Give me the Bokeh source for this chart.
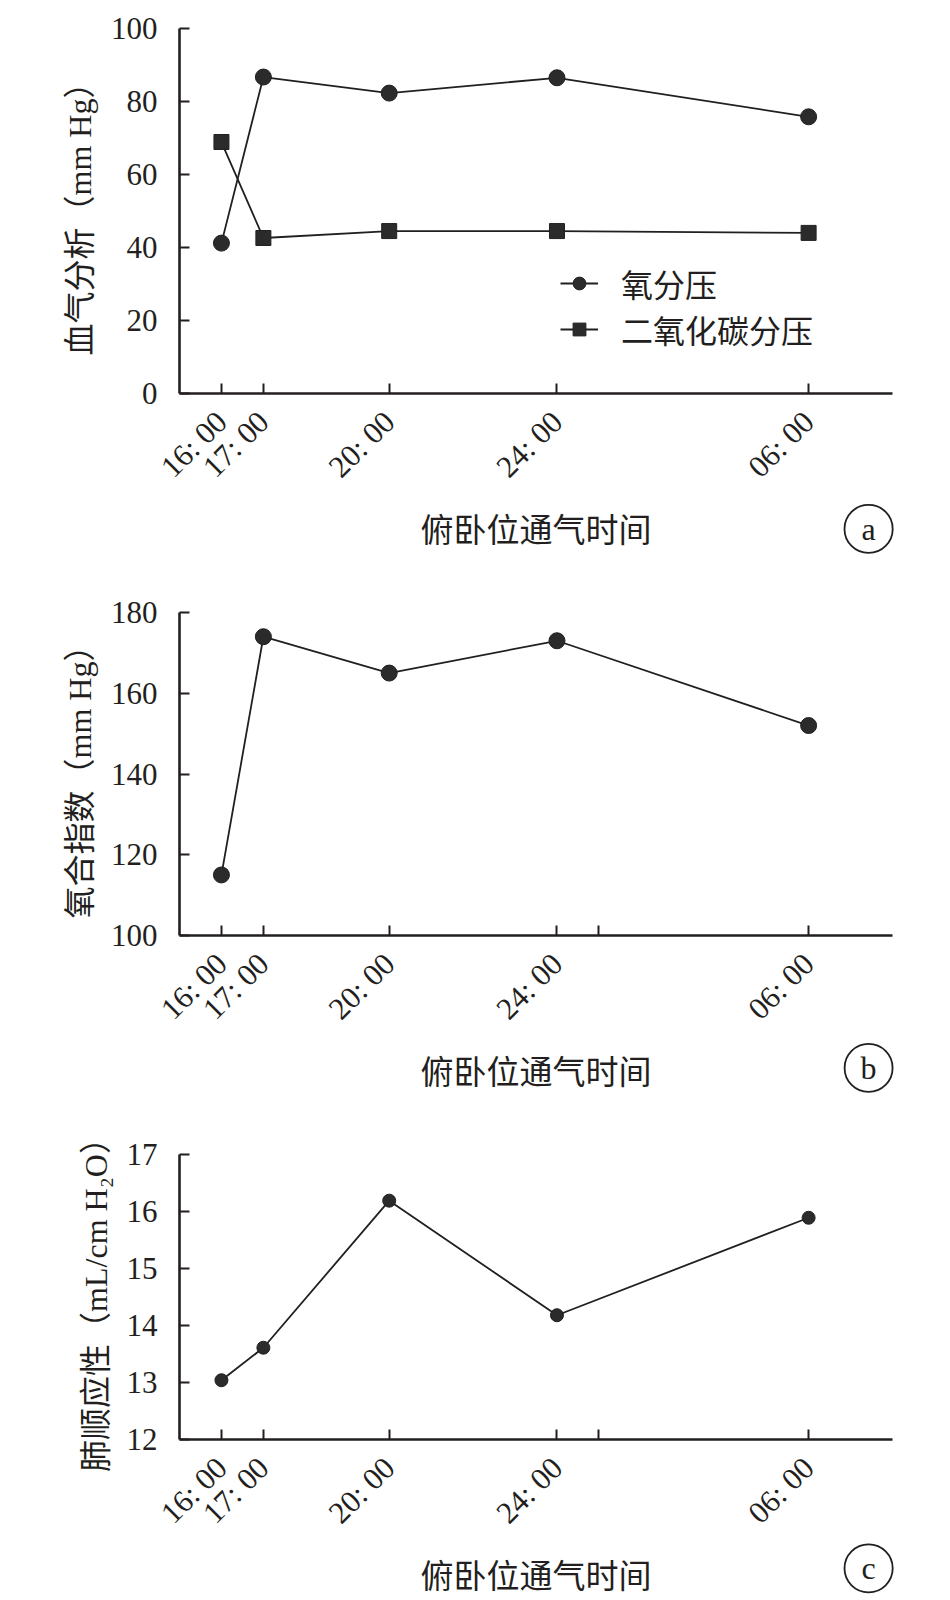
import math
from bokeh.plotting import figure
from bokeh.models import (Range1d, FixedTicker, Legend, LegendItem, Label, ColumnDataSource)
from bokeh.layouts import column
from bokeh.embed import file_html
from bokeh.resources import INLINE

# ---------------- data ----------------
hours = [16, 17, 20, 24, 30]           # 30 = 06:00 next day
tick_labels = ["16: 00", "17: 00", "20: 00", "24: 00", "06: 00"]
po2 = [41.2, 86.7, 82.3, 86.5, 75.8]     # 氧分压
pco2 = [68.9, 42.6, 44.5, 44.5, 44.0]    # 二氧化碳分压
oxy_index = [115, 174, 165, 173, 152]    # 氧合指数
compliance = [13.04, 13.61, 16.19, 14.18, 15.89]  # 肺顺应性

INK = "#231f20"
NUM_FONT = "Liberation Serif"
CJK_FONT = "'Liberation Serif', 'Noto Sans CJK SC'"


def make_panel(frame_h, y0, y1, yticks, ylabel, border_top, border_bottom, extra_tick):
    p = figure(frame_width=713, frame_height=frame_h,
               x_range=Range1d(15, 32), y_range=Range1d(y0, y1),
               output_backend="svg", toolbar_location=None,
               min_border_left=179, min_border_right=50,
               min_border_top=border_top, min_border_bottom=border_bottom)
    p.outline_line_color = None
    p.xgrid.visible = False
    p.ygrid.visible = False
    ticks = list(hours) + ([25] if extra_tick else [])
    p.xaxis.ticker = FixedTicker(ticks=ticks)
    ov = {h: t for h, t in zip(hours, tick_labels)}
    if extra_tick:
        ov[25] = ""
    p.xaxis.major_label_overrides = ov
    p.xaxis.major_label_orientation = math.pi / 4
    p.yaxis.ticker = FixedTicker(ticks=yticks)
    for ax in (p.xaxis, p.yaxis):
        ax.axis_line_width = 2.6
        ax.axis_line_color = INK
        ax.major_tick_line_width = 2
        ax.major_tick_line_color = INK
        ax.major_tick_in = 10
        ax.major_tick_out = 0
        ax.minor_tick_line_color = None
        ax.major_label_text_font = NUM_FONT
        ax.major_label_text_color = INK
        ax.axis_label_text_font = CJK_FONT
        ax.axis_label_text_font_style = "normal"
        ax.axis_label_text_color = INK
    p.xaxis.major_label_text_font_size = "31px"
    p.yaxis.major_label_text_font_size = "31px"
    p.xaxis.major_label_standoff = 23
    p.yaxis.major_label_standoff = 22
    p.xaxis.axis_label = "俯卧位通气时间"
    p.xaxis.axis_label_text_font_size = "33px"
    p.xaxis.axis_label_standoff = 13
    p.yaxis.axis_label = ylabel
    p.yaxis.axis_label_text_font_size = "32px"
    p.yaxis.axis_label_standoff = 10
    return p


def add_letter(p, letter, x, y, pad_x):
    p.add_layout(Label(x=x, y=y, text=letter, text_align="center", text_baseline="middle",
                       text_font=NUM_FONT, text_font_size="32px", text_color=INK,
                       border_line_color=INK, border_line_width=1.8, border_radius=24,
                       padding=dict(left=pad_x, right=pad_x, top=6, bottom=6)), "right")


# ---------------- panel a ----------------
pa = make_panel(365, 0, 100, [0, 20, 40, 60, 80, 100], "血气分析（mm Hg）", 28, 177, False)
src = ColumnDataSource(dict(x=hours, o2=po2, co2=pco2))
l1 = pa.line("x", "o2", source=src, line_color=INK, line_width=1.8)
s1 = pa.scatter("x", "o2", source=src, marker="circle", size=16, fill_color="#2b2b2b", line_color=INK)
l2 = pa.line("x", "co2", source=src, line_color=INK, line_width=1.8)
s2 = pa.scatter("x", "co2", source=src, marker="square", size=15, fill_color="#2b2b2b", line_color=INK)
legend = Legend(items=[LegendItem(label="氧分压", renderers=[l1, s1]),
                       LegendItem(label="二氧化碳分压", renderers=[l2, s2])],
                location=(381, 41), orientation="vertical",
                label_text_font=CJK_FONT, label_text_font_size="32px", label_text_color=INK,
                glyph_width=38, glyph_height=32, label_height=32, label_standoff=23,
                spacing=-2, padding=0, margin=0,
                border_line_color=None, background_fill_alpha=0)
pa.add_layout(legend)
add_letter(pa, "a", 31.43, -37.1, 17)

# ---------------- panel b ----------------
pb = make_panel(323, 100, 180, [100, 120, 140, 160, 180], "氧合指数（mm Hg）", 42, 173, True)
pb.line(hours, oxy_index, line_color=INK, line_width=1.8)
pb.scatter(hours, oxy_index, marker="circle", size=16, fill_color="#2b2b2b", line_color=INK)
add_letter(pb, "b", 31.43, 67.2, 16)

# ---------------- panel c ----------------
pc = make_panel(285, 12, 17, [12, 13, 14, 15, 16, 17], "肺顺应性（mL/cm H₂O）", 46, 190, True)
pc.line(hours, compliance, line_color=INK, line_width=1.8)
pc.scatter(hours, compliance, marker="circle", size=13, fill_color="#2b2b2b", line_color=INK)
add_letter(pc, "c", 31.43, 9.74, 17)

layout = column(pa, pb, pc, spacing=0)
open("out.html", "w").write(file_html(layout, INLINE))
